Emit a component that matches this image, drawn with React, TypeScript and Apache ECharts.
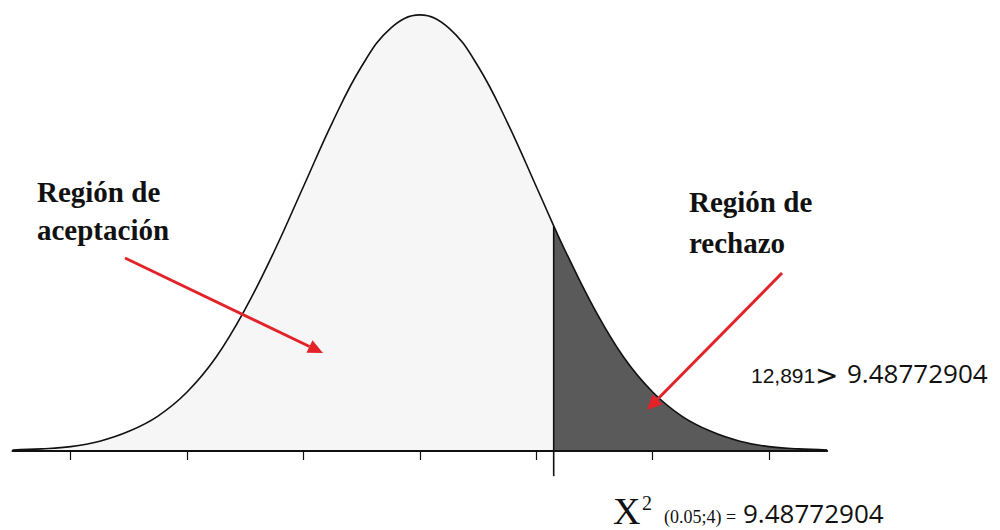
import React, { useEffect, useRef } from "react";
import * as echarts from "echarts";

// Standardised positions along the horizontal axis
const acceptX = [-3.5, -3.25, -3, -2.75, -2.5, -2.25, -2, -1.75, -1.5, -1.25, -1, -0.75, -0.5, -0.25, 0, 0.25, 0.5, 0.75, 1, 1.15];
const acceptY = [0.001, 0.002, 0.004, 0.009, 0.018, 0.032, 0.054, 0.086, 0.13, 0.183, 0.242, 0.301, 0.352, 0.387, 0.399, 0.387, 0.352, 0.301, 0.242, 0.206];
const rejectX = [1.15, 1.25, 1.5, 1.75, 2, 2.25, 2.5, 2.75, 3, 3.25, 3.5];
const rejectY = [0.206, 0.183, 0.13, 0.086, 0.054, 0.032, 0.018, 0.009, 0.004, 0.002, 0.001];
const tickValues = [-3, -2, -1, 0, 1, 2, 3];
const criticalX = 1.15;
const criticalLine = [-0.023, 0.206];

const labelAccept = ["Región de", "aceptación"];
const labelReject = ["Región de", "rechazo"];
const compareLeft = "12,891";
const compareSign = ">";
const compareRight = "9.48772904";
const chiSymbol = "X";
const chiPower = "2";
const chiParams = "(0.05;4) =";
const chiValue = "9.48772904";

const RED = "#e3232a";

export default function App() {
  const ref = useRef<HTMLDivElement>(null);
  useEffect(() => {
    if (!ref.current) return;
    const chart = echarts.init(ref.current, null, { renderer: "svg" });
    const textEl = (
      text: string,
      x: number,
      y: number,
      fontSize: number,
      fontFamily: string,
      fontWeight: string = "normal",
      fill = "#111"
    ) => ({
      type: "text",
      x,
      y,
      style: { text, fontSize, fontFamily, fontWeight, fill, textAlign: "left", textVerticalAlign: "middle" },
      z: 20,
    });
    const arrow = (x1: number, y1: number, tx: number, ty: number) => {
      const dx = tx - x1, dy = ty - y1;
      const len = Math.sqrt(dx * dx + dy * dy);
      const ux = dx / len, uy = dy / len;
      const bx = tx - 15 * ux, by = ty - 15 * uy;
      const px = -uy * 7, py = ux * 7;
      return [
        { type: "line", shape: { x1, y1, x2: bx, y2: by }, style: { stroke: RED, lineWidth: 3 }, z: 20 },
        { type: "polygon", shape: { points: [[tx, ty], [bx + px, by + py], [bx - px, by - py]] }, style: { fill: RED }, z: 20 },
      ];
    };
    const SERIF = "Liberation Serif";
    chart.setOption({
      animation: false,
      backgroundColor: "#ffffff",
      grid: { left: 12.5, right: 172.8, top: 2.9, bottom: 13.4 },
      xAxis: {
        type: "value",
        min: -3.5,
        max: 3.5,
        z: 5,
        splitLine: { show: false },
        axisLine: { onZero: true, lineStyle: { color: "#111", width: 2 } },
        axisTick: { show: true, customValues: tickValues, length: 9, lineStyle: { color: "#111", width: 1.2 } },
        axisLabel: { show: false },
      },
      yAxis: {
        type: "value",
        min: -0.06,
        max: 0.41,
        show: false,
        splitLine: { show: false },
      },
      series: [
        {
          type: "line",
          data: acceptX.map((x, i) => [x, acceptY[i]]),
          smooth: 0.4,
          showSymbol: false,
          lineStyle: { color: "#111", width: 1.6 },
          areaStyle: { color: "#f6f6f6", opacity: 1 },
          z: 2,
        },
        {
          type: "line",
          data: rejectX.map((x, i) => [x, rejectY[i]]),
          smooth: 0.4,
          showSymbol: false,
          lineStyle: { color: "#111", width: 1.6 },
          areaStyle: { color: "#5a5a5a", opacity: 1 },
          z: 3,
        },
        {
          type: "line",
          data: criticalLine.map((y) => [criticalX, y]),
          showSymbol: false,
          lineStyle: { color: "#111", width: 1.6 },
          z: 6,
        },
      ],
      graphic: [
        textEl(labelAccept[0], 37, 192, 29, SERIF, "bold"),
        textEl(labelAccept[1], 37, 230, 29, SERIF, "bold"),
        textEl(labelReject[0], 689, 202, 29, SERIF, "bold"),
        textEl(labelReject[1], 689, 243, 29, SERIF, "bold"),
        ...arrow(125, 258, 323, 353),
        ...arrow(782, 273, 647, 410),
        textEl(compareLeft, 751, 375.7, 21, "Liberation Sans"),
        textEl(compareSign, 815, 375, 28, "DejaVu Sans"),
        textEl(compareRight, 847, 373.3, 26, "Open Sans"),
        textEl(chiSymbol, 613, 510.5, 38, SERIF),
        textEl(chiPower, 642, 503, 20, SERIF),
        textEl(chiParams, 664, 517, 18, SERIF),
        textEl(chiValue, 743, 513, 26, "Open Sans"),
      ],
    });
    return () => chart.dispose();
  }, []);
  return <div ref={ref} style={{ position: "absolute", left: 0, top: 0, width: 1000, height: 530 }} />;
}
